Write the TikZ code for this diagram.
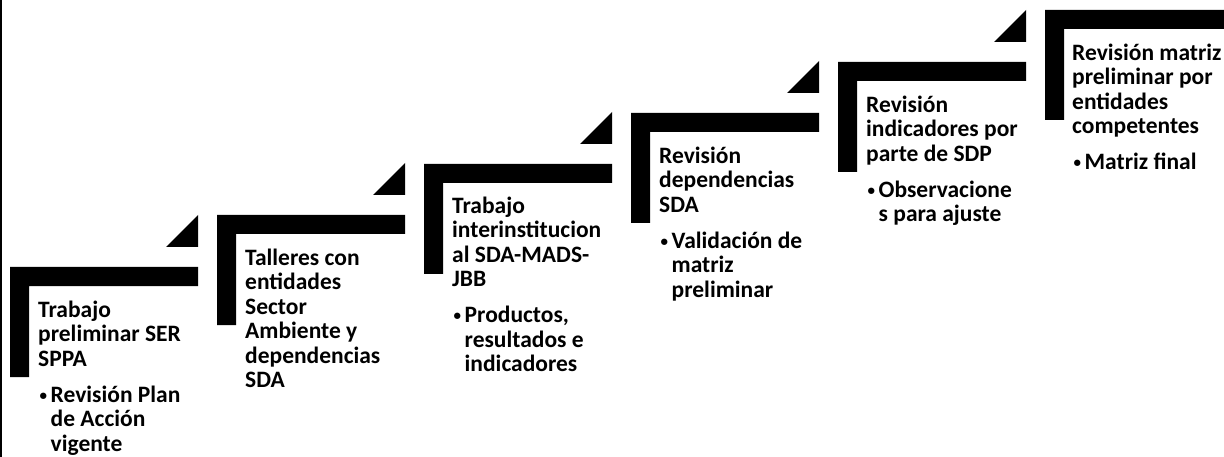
\documentclass[tikz,border=0pt]{standalone}
\usepackage{fontspec}
\setmainfont{Carlito}
\newcommand\stepbul{\makebox[12.5pt][l]{\hspace{1.5pt}\raisebox{2pt}{\fontsize{15}{15}\selectfont\textbullet}}}
\newcommand\stepind{\hspace*{12.5pt}}
\newcommand\stepstrut{\rule{0pt}{20pt}}
\tikzset{
  x=1pt, y=-1pt,
  barshape/.style={fill=black, draw=none},
  steptext/.style={anchor=north west, inner sep=0pt, align=left,
    font=\fontsize{23.5}{24.5}\selectfont\bfseries, text=black},
}
\begin{document}
\begin{tikzpicture}
\useasboundingbox (0,0) rectangle (1224,457);
\clip (0,0) rectangle (1224,457);
\fill[white] (0,0) rectangle (1224,457);
% left edge line
\draw[line width=1.5pt] (1,0) -- (1,457);
% step shapes: L-bars
\foreach \L/\T in {10/267, 217/215, 424/164, 631/113, 838/62, 1045/10}{
  \fill[barshape] (\L,\T) -- ++(188,0) -- ++(0,19) -- (\L+19,\T+19) -- (\L+19,\T+110) -- (\L,\T+110) -- cycle;
}
% triangles
\foreach \L/\T in {10/267, 217/215, 424/164, 631/113, 838/62}{
  \fill[barshape] (\L+156,\T-20) -- (\L+188,\T-20) -- (\L+188,\T-52) -- cycle;
}
% texts
\node[steptext] (s1) at (38,297) {\stepstrut Trabajo\\preliminar SER\\SPPA\\[11.5pt]\stepbul Revisión Plan\\\stepind de Acción\\\stepind vigente};
\node[steptext] (s2) at (245,245) {\stepstrut Talleres con\\entidades\\Sector\\Ambiente y\\dependencias\\SDA};
\node[steptext] (s3) at (452,193) {\stepstrut Trabajo\\interinstitucion\\al SDA-MADS-\\JBB\\[11.5pt]\stepbul Productos,\\\stepind resultados e\\\stepind indicadores};
\node[steptext] (s4) at (659,143) {\stepstrut Revisión\\dependencias\\SDA\\[11.5pt]\stepbul Validación de\\\stepind matriz\\\stepind preliminar};
\node[steptext] (s5) at (866,92) {\stepstrut Revisión\\indicadores por\\parte de SDP\\[11.5pt]\stepbul Observacione\\\stepind s para ajuste};
\node[steptext] (s6) at (1072,40) {\stepstrut Revisión matriz\\preliminar por\\entidades\\competentes\\[11.5pt]\stepbul Matriz final};
\end{tikzpicture}
\end{document}
